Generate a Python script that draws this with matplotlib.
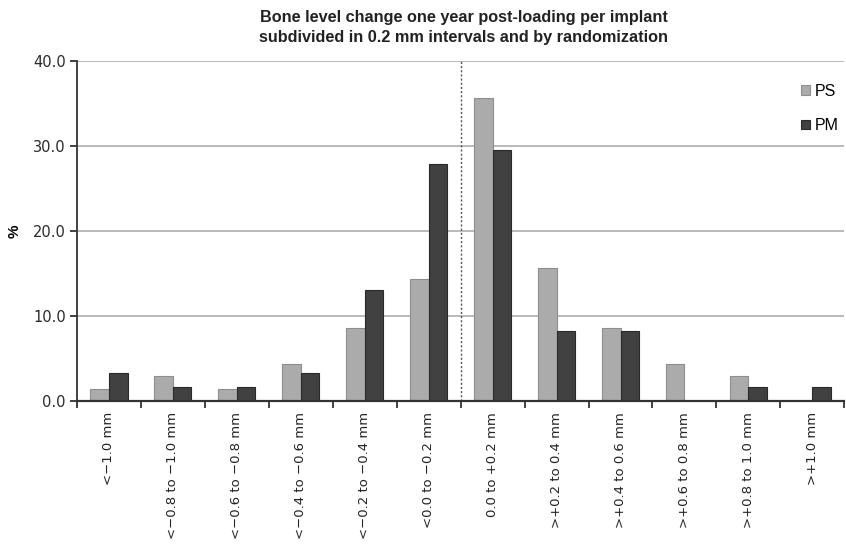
import matplotlib
matplotlib.use("Agg")
import matplotlib.pyplot as plt
import numpy as np
from matplotlib.ticker import FixedLocator

categories = ["<\u22121.0 mm", "<\u22120.8 to \u22121.0 mm", "<\u22120.6 to \u22120.8 mm",
              "<\u22120.4 to \u22120.6 mm", "<\u22120.2 to \u22120.4 mm", "<0.0 to \u22120.2 mm",
              "0.0 to +0.2 mm", ">+0.2 to 0.4 mm", ">+0.4 to 0.6 mm", ">+0.6 to 0.8 mm",
              ">+0.8 to 1.0 mm", ">+1.0 mm"]
ps_values = [1.4, 2.9, 1.4, 4.3, 8.6, 14.3, 35.7, 15.7, 8.6, 4.3, 2.9, 0.0]
pm_values = [3.3, 1.6, 1.6, 3.3, 13.1, 27.9, 29.5, 8.2, 8.2, 0.0, 1.6, 1.6]
yticks = [0, 10, 20, 30, 40]
ytick_labels = ["0.0", "10.0", "20.0", "30.0", "40.0"]
title = "Bone level change one year post-loading per implant\nsubdivided in 0.2 mm intervals and by randomization"

fig = plt.figure(figsize=(8.46, 5.52), dpi=100)
ax = fig.add_axes([0.091, 0.2736, 0.907, 0.6159])

x = np.arange(len(categories))
w = 0.29
ax.bar(x - w / 2, ps_values, w, color="#ababab", edgecolor="#8e8e8e", linewidth=0.8, label="PS", zorder=3)
ax.bar(x + w / 2, pm_values, w, color="#414141", edgecolor="#2a2a2a", linewidth=0.8, label="PM", zorder=3)

ax.set_xlim(-0.5, len(categories) - 0.5)
ax.set_ylim(0, 40)
ax.set_yticks(yticks)
ax.set_yticklabels(ytick_labels, fontsize=10.5, family="DejaVu Sans", color="#2a2a2a")
ax.yaxis.grid(True, color="#b4b4b4", linewidth=1.3, zorder=0)
ax.set_axisbelow(True)

ax.set_xticks(x)
ax.set_xticklabels(categories, rotation=90, fontsize=9.5, family="DejaVu Sans", color="#222222", va="top")
ax.tick_params(axis="x", which="major", length=0, pad=8)
ax.xaxis.set_minor_locator(FixedLocator(np.arange(-0.5, len(categories), 1.0)))
ax.tick_params(axis="x", which="minor", length=5, width=1.3, direction="out", color="#333333")
ax.tick_params(axis="y", length=5, width=1.3, direction="out", color="#333333", pad=3)

for s in ["top", "right"]:
    ax.spines[s].set_visible(False)
ax.spines["left"].set_color("#333333")
ax.spines["left"].set_linewidth(1.3)
ax.spines["bottom"].set_color("#333333")
ax.spines["bottom"].set_linewidth(1.6)
ax.spines["bottom"].set_zorder(4)

ax.axvline(5.5, color="#555555", linestyle=(0, (1.5, 1.5)), linewidth=1.0, zorder=2)

ax.set_ylabel("%", fontsize=11, fontweight="bold", family="Liberation Sans", labelpad=8)

fig.text(0.548, 0.982, title, ha="center", va="top", fontsize=11.7, fontweight="bold",
         family="Liberation Sans", linespacing=1.4, color="#222222")

leg = ax.legend(loc="upper right", bbox_to_anchor=(1.012, 0.975), frameon=False,
                handlelength=0.55, handleheight=0.55, labelspacing=1.2, handletextpad=0.35,
                prop={"family": "Liberation Sans", "size": 11.5})

fig.savefig("out.png", dpi=100)
